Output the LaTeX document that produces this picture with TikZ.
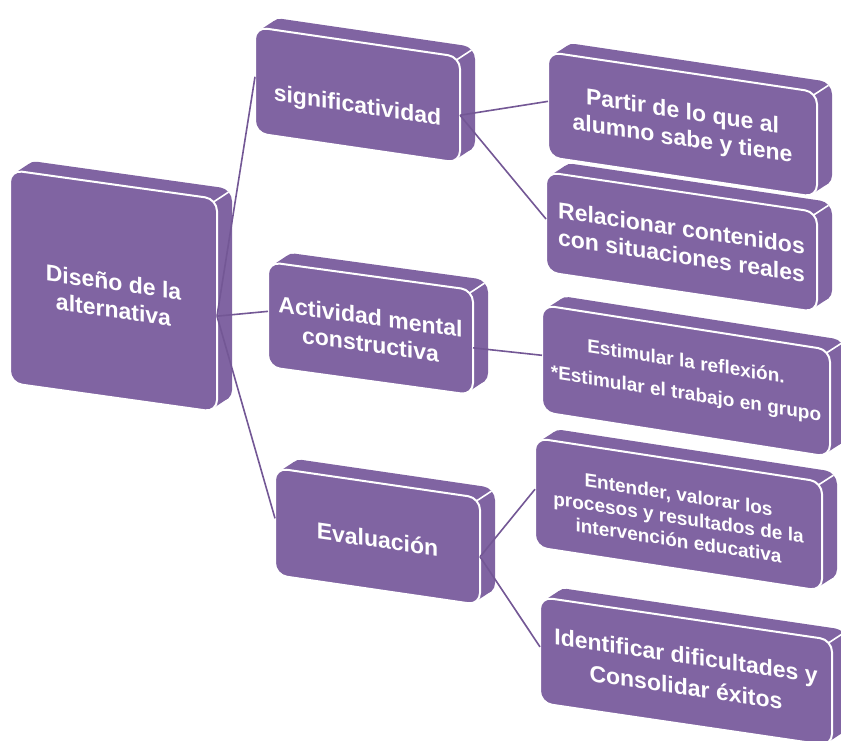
\documentclass[tikz,border=0pt]{standalone}
\usepackage{fontspec}
\setmainfont{Liberation Sans}
\definecolor{boxpurple}{HTML}{8064A2}
\definecolor{linepurple}{HTML}{735795}
\tikzset{
  boxback/.style={fill=boxpurple, rounded corners=12pt},
  boxface/.style={fill=boxpurple, draw=white, line width=2pt, rounded corners=12pt},
  boxedge/.style={draw=white, line width=1.6pt},
  boxtext/.style={transform shape, text=white, align=center, inner sep=0pt},
  link/.style={draw=linepurple, line width=1.6pt}
}
\newcommand{\pbox}[9]{%
\begin{scope}[shift={(#2,#3)}, yslant=-#6]
  \fill[boxback] (15,-12) rectangle (#4+15,#5-12);
  \fill[boxpurple] (3.5,3.5) -- (18.5,-8.5) -- (#4+11.5,#5-15.5) -- (#4-3.5,#5-3.5) -- cycle;
  \draw[boxface] (0,0) rectangle (#4,#5);
  \draw[boxedge] (#4-3.5,3.5) -- (#4+11.5,-8.5);
  \node[boxtext, font={#7}] (#1) at (#4/2,#5/2+#9) {#8};
  \coordinate (#1-l) at (0,0.47*#5);
  \coordinate (#1-r) at (#4,0.55*#5);
\end{scope}}
\newcommand{\bigtxt}{\bfseries\fontsize{23}{27.5}\selectfont}
\newcommand{\smalltxt}{\bfseries\fontsize{19}{23}\selectfont}
\begin{document}
\begin{tikzpicture}[x=1pt, y=-1pt]
\useasboundingbox (0,0) rectangle (841,740);
\fill[white] (0,0) rectangle (841,740);
\clip (0,0) rectangle (841,740);
\pbox{main}{10}{170}{207}{213}{0.14}{\bigtxt}{Diseño de la\\alternativa}{5}
\pbox{sig}{255}{27}{205}{106}{0.146}{\bigtxt}{significatividad}{12}
\pbox{act}{268}{262}{205}{105}{0.137}{\bigtxt}{Actividad mental\\constructiva}{2}
\pbox{eval}{275}{468}{205}{107}{0.146}{\bigtxt}{Evaluación}{3}
\pbox{partir}{548}{52}{269}{105}{0.149}{\bigtxt}{Partir de lo que al\\alumno sabe y tiene}{2}
\pbox{rel}{546}{172}{271}{100}{0.148}{\bigtxt}{Relacionar contenidos\\con situaciones reales}{0}
\pbox{est}{542}{305}{288}{107}{0.156}{\smalltxt}{Estimular la reflexión.\\[9pt]*Estimular el trabajo en grupo}{-2}
\pbox{ent}{535}{438}{287}{109}{0.153}{\smalltxt}{Entender, valorar los\\procesos y resultados de la\\intervención educativa}{3}
\pbox{ident}{540}{597}{292}{106}{0.147}{\bigtxt}{Identificar dificultades y\\[4pt]Consolidar éxitos}{0}
\draw[link] (main-r) -- (sig-l);
\draw[link] (main-r) -- (act-l);
\draw[link] (main-r) -- (eval-l);
\draw[link] (sig-r) -- (partir-l);
\draw[link] (sig-r) -- (rel-l);
\draw[link] (act-r) -- (est-l);
\draw[link] (eval-r) -- (ent-l);
\draw[link] (eval-r) -- (ident-l);
\end{tikzpicture}
\end{document}
